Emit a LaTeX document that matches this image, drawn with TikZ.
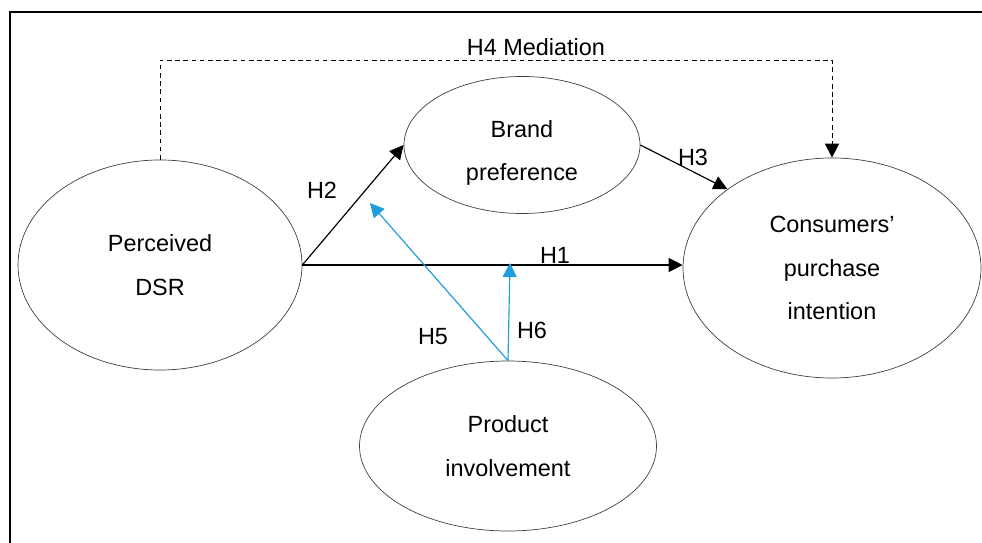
\documentclass[tikz,border=0pt]{standalone}
\usepackage{fontspec}
\setmainfont{Liberation Sans}
\usetikzlibrary{arrows.meta,shapes.geometric}

\definecolor{modblue}{RGB}{30,158,218}

\begin{document}
\begin{tikzpicture}[x=0.03cm,y=-0.03cm,>={Triangle[length=12pt,width=12pt]},
  construct/.style={ellipse,draw=black!75,line width=0.6pt,inner sep=0pt,align=center,
    font=\fontsize{20}{37.5}\selectfont},
  hlabel/.style={font=\fontsize{20}{24}\selectfont,inner sep=0pt},
  path arrow/.style={->,line width=1pt},
  mod arrow/.style={->,line width=1pt,draw=modblue,fill=modblue}]

  \useasboundingbox (0,0) rectangle (982,543);
  \draw[line width=1.6pt] (10,543) -- (10,12) -- (982,12);

  \node[construct,minimum width=8.52cm,minimum height=6.3cm] (dsr) at (160,265) {Perceived\\DSR};
  \node[construct,minimum width=7.08cm,minimum height=4.11cm] (brand) at (522,145) {\rule{0pt}{28pt}Brand\\preference};
  \node[construct,minimum width=8.94cm,minimum height=6.6cm] (cpi) at (832,268) {Consumers’\\purchase\\intention};
  \node[construct,minimum width=8.91cm,minimum height=5.1cm] (prod) at (508,446) {Product\\involvement};

  \coordinate (h5end) at (370,203);
  \coordinate (h6end) at (510,263);
  \coordinate (h4left) at (160,60);
  \coordinate (h4right) at (832,60);

  % direct paths
  \path[path arrow]
    (dsr.east) edge (dsr.east -| cpi.west)
               edge (brand.west)
    (brand.east) edge (cpi.143);

  % mediation
  \draw[->,line width=0.8pt,dash pattern=on 4pt off 3pt] (dsr.north) -- (h4left) -- (h4right) -- (cpi.north);

  % moderation
  \draw[mod arrow] (prod.north) -- (h5end);
  \draw[mod arrow] (prod.north) -- (h6end);

  \node[hlabel] (h1) at (555,255) {H1};
  \node[hlabel] (h2) at (322,190) {H2};
  \node[hlabel] (h3) at (693,157) {H3};
  \node[hlabel] (h4) at (536,47) {H4 Mediation};
  \node[hlabel] (h5) at (433,337) {H5};
  \node[hlabel] (h6) at (532,330) {H6};
\end{tikzpicture}
\end{document}
